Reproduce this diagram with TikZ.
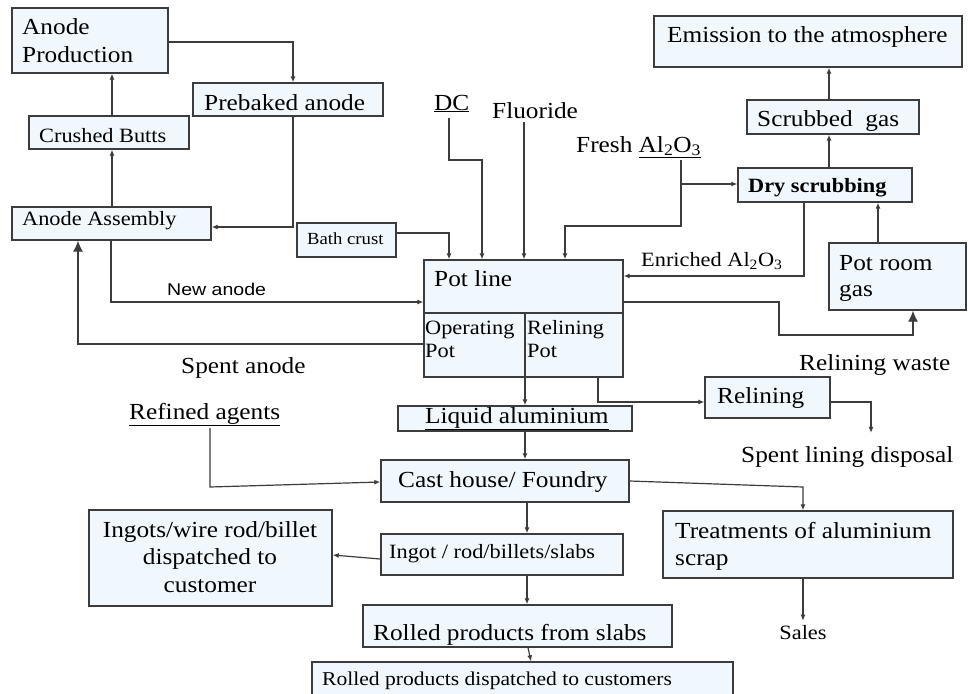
\documentclass[tikz,border=0pt]{standalone}
\usepackage{fontspec}
\setmainfont{Liberation Serif}[FakeStretch=1.1]
\newfontfamily\labsans{Liberation Sans}[FakeStretch=1.15]
\usetikzlibrary{arrows.meta,fit,calc}
\definecolor{boxfill}{RGB}{240,248,254}
\definecolor{lncol}{RGB}{60,60,60}
\begin{document}
\begin{tikzpicture}[x=1pt,y=-1pt,
  box/.style={draw=lncol, line width=1.4pt, fill=boxfill, inner sep=0pt},
  txt/.style={anchor=base west, inner sep=0pt, font=\fontsize{23}{28}\selectfont},
  txs/.style={anchor=base west, inner sep=0pt, font=\fontsize{20.3}{24}\selectfont},
  txc/.style={anchor=base, inner sep=0pt, font=\fontsize{23}{28}\selectfont},
  conn/.style={draw=lncol, line width=1.2pt, -{Latex[length=6pt,width=5pt]}},
  bigconn/.style={draw=lncol, line width=1.2pt, -{Latex[length=11pt,width=10pt]}},
  plainln/.style={draw=lncol, line width=1.2pt}
]
\useasboundingbox (0,0) rectangle (968,693);
\fill[white] (0,0) rectangle (968,693);

% ---------- boxes ----------
\node[box, fit={(12,8) (168,73)}] (ap) {};
\node[box, fit={(193,83) (383,116)}] (pb) {};
\node[box, fit={(29,116) (189,149)}] (cb) {};
\node[box, fit={(12,207) (211,240)}] (aa) {};
\node[box, fit={(297,223) (396,257)}] (bc) {};
\node[box, fit={(654,16) (962,67)}] (em) {};
\node[box, fit={(747,100) (919,134)}] (sg) {};
\node[box, fit={(738,168) (912,202)}] (ds) {};
\node[box, fit={(424,260) (623,377)}] (pl) {};
\node[box, fit={(829,243) (966,310)}] (prg) {};
\node[box, fit={(705,377) (830,418)}] (rl) {};
\node[box, fit={(398,406) (632,431)}] (la) {};
\node[box, fit={(381,460) (629,502)}] (ch) {};
\node[box, fit={(89,510) (332,606)}] (ig) {};
\node[box, fit={(381,534) (623,575)}] (ir) {};
\node[box, fit={(663,511) (953,578)}] (tr) {};
\node[box, fit={(363,605) (672,647)}] (rs) {};
\node[box, fit={(312,662) (733,698)}] (rd) {};

% pot line divider
\draw[lncol, line width=1.4pt] (pl.west |- 0,313) -- (pl.east |- 0,313);

% ---------- texts ----------
\node[txt] (tap1) at (22,35) {Anode};
\node[txt] (tap2) at (22,63) {Production};
\node[txt] (tpb) at (204,110) {Prebaked anode};
\node[txs] (tcb) at (39,142) {Crushed Butts};
\node[txs] (taa) at (22,225) {Anode Assembly};
\node[anchor=base west, inner sep=0pt, font=\fontsize{17}{20}\selectfont] (tbc) at (307,244) {Bath crust};
\node[txt] (tem) at (667,42) {Emission to the atmosphere};
\node[txt] (tsg) at (757,126) {Scrubbed\ \ gas};
\node[anchor=base west, inner sep=0pt, font=\fontsize{20.3}{24}\selectfont\bfseries] (tds) at (748,192) {Dry scrubbing};
\node[txt] (tpl) at (434,286) {Pot line};
\node[txs] (top1) at (425,334) {Operating};
\node[txs] (top2) at (425,357) {Pot};
\node[txs] (trp1) at (527,334) {Relining};
\node[txs] (trp2) at (527,357) {Pot};
\node[txt] (tprg1) at (839,270) {Pot room};
\node[txt] (tprg2) at (839,296) {gas};
\node[txt] (trl) at (717,403) {Relining};
\node[txt] (tla) at (425,423) {\underline{Liquid aluminium}};
\node[txt] (tch) at (398,487) {Cast house/ Foundry};
\node[txc] (tig1) at (210,537) {Ingots/wire rod/billet};
\node[txc] (tig2) at (210,564) {dispatched to};
\node[txc] (tig3) at (210,592) {customer};
\node[txs] (tir) at (389,558) {Ingot / rod/billets/slabs};
\node[txt] (ttr1) at (675,538) {Treatments of aluminium};
\node[txt] (ttr2) at (675,565) {scrap};
\node[txt] (trs) at (373,640) {Rolled products from slabs};
\node[anchor=base west, inner sep=0pt, font=\fontsize{19.6}{23}\selectfont] (trd) at (322,685) {Rolled products dispatched to customers};

\node[txt] (dc) at (434,110) {\underline{DC}};
\node[txt] (fl) at (492,118) {Fluoride};
\node[txt] (fr) at (576,152) {Fresh \underline{Al\textsubscript{2}O\textsubscript{3}}};
\node[txs] (en) at (641,266) {Enriched Al\textsubscript{2}O\textsubscript{3}};
\node[anchor=base west, inner sep=0pt, font=\labsans\fontsize{17}{20}\selectfont] (na) at (167,295) {New anode};
\node[txt] (sa) at (181,373) {Spent anode};
\node[txt] (ra) at (129,419) {\underline{Refined agents}};
\node[txt] (rw) at (799,370) {Relining waste};
\node[txt] (sld) at (741,462) {Spent lining disposal};
\node[anchor=base, inner sep=0pt, font=\fontsize{20.3}{24}\selectfont] (sl) at (803,639) {Sales};

% ---------- free ends ----------
\coordinate (dcs) at ($(449,0 |- dc.south)+(0,6)$);
\coordinate (fls) at ($(524,0 |- fl.south)+(0,4)$);
\coordinate (frs) at ($(681,0 |- fr.south)+(0,2)$);
\coordinate (rfs) at ($(210,0 |- ra.south)+(0,2)$);
\coordinate (sldn) at ($(871,0 |- sld.north)+(0,-13)$);
\coordinate (saln) at ($(803,0 |- sl.north)+(0,-4)$);

% ---------- connectors ----------
\draw[conn] (ap.east |- 0,42) -| (293,0 |- pb.north);
\draw[conn] (112,0 |- cb.north) -- (112,0 |- ap.south);
\draw[conn] (112,0 |- aa.north) -- (112,0 |- cb.south);
\draw[conn] (293,0 |- pb.south) |- (aa.east |- 0,227);
\draw[conn] (111,0 |- aa.south) |- (pl.west |- 0,302);
\draw[bigconn] (pl.west |- 0,344) -| (78,0 |- aa.south);
\draw[conn] (bc.east |- 0,233) -| (449,0 |- pl.north);
\draw[conn] (dcs) |- (482,160) -- (482,0 |- pl.north);
\draw[conn] (fls) -- (524,0 |- pl.north);
\draw[conn] (frs) |- (565,226) -- (565,0 |- pl.north);
\draw[conn] (681,184) -- (ds.west |- 0,184);
\draw[conn] (804,0 |- ds.south) |- (pl.east |- 0,276);
\draw[conn] (829,0 |- ds.north) -- (829,0 |- sg.south);
\draw[conn] (829,0 |- sg.north) -- (829,0 |- em.south);
\draw[conn] (878,0 |- prg.north) -- (878,0 |- ds.south);
\draw[bigconn] (pl.east |- 0,302) -| (779,335) -| (913,0 |- prg.south);
\draw[conn] (525,313) -- (525,0 |- la.north);
\draw[conn] (598,0 |- pl.south) |- (rl.west |- 0,402);
\draw[conn] (rl.east |- 0,402) -| (sldn);
\draw[conn] (525,0 |- la.south) -- (525,0 |- ch.north);
\draw[conn] (rfs) -- (210,487) -- (ch.west |- 0,482);
\draw[conn] (ch.east |- 0,481) -- (803,487) -- (803,0 |- tr.north);
\draw[conn] (527,0 |- ch.south) -- (527,0 |- ir.north);
\draw[conn] (ir.west |- 0,559) -- (ig.east |- 0,555);
\draw[conn] (527,0 |- ir.south) -- (527,0 |- rs.north);
\draw[conn] (528,0 |- rs.south) -- (531,0 |- rd.north);
\draw[conn] (803,0 |- tr.south) -- (saln);
\end{tikzpicture}
\end{document}
